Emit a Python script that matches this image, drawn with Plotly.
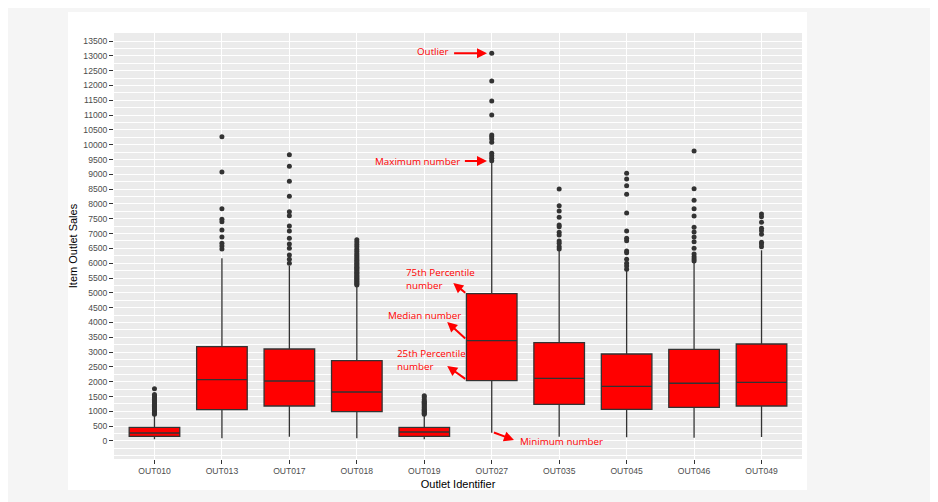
import plotly.graph_objects as go

outlets = ["OUT010", "OUT013", "OUT017", "OUT018", "OUT019",
           "OUT027", "OUT035", "OUT045", "OUT046", "OUT049"]
q1 = [158, 1057, 1181, 989, 158, 2035, 1238, 1069, 1137, 1181]
medians = [270, 2069, 2025, 1654, 304, 3385, 2116, 1846, 1948, 1981]
q3 = [462, 3183, 3105, 2710, 462, 4972, 3318, 2936, 3095, 3274]
lower_whisker = [57, 90, 145, 90, 57, 280, 145, 124, 111, 135]
upper_whisker = [880, 6166, 5917, 5231, 880, 9400, 6413, 5748, 6031, 6436]

out010_outliers = [905, 930, 960, 990, 1020, 1055, 1090, 1120, 1160, 1195, 1240,
                   1280, 1320, 1360, 1410, 1450, 1490, 1530, 1565, 1766]
out013_outliers = [10270, 9079, 7840, 7482, 7402, 7121, 6885, 6672, 6581, 6480]
out017_outliers = [9663, 9271, 8765, 8259, 7739, 7604, 7256, 7087, 6841, 6649,
                   6503, 6277, 6132, 5997]
out018_outliers = [5262, 5295, 5330, 5372, 5410, 5455, 5490, 5536, 5570, 5612,
                   5660, 5695, 5742, 5780, 5826, 5864, 5910, 5955, 6002, 6048,
                   6100, 6148, 6210, 6265, 6330, 6405, 6470, 6552, 6630, 6715, 6790]
out019_outliers = [905, 935, 965, 1000, 1035, 1070, 1110, 1150, 1190, 1230,
                   1270, 1310, 1340, 1400, 1482, 1529]
out027_outliers = [13087, 12150, 11475, 11003, 10328, 10270, 10193, 10080,
                   9710, 9630, 9541, 9461]
out035_outliers = [8505, 7941, 7762, 7549, 7290, 7233, 7043, 6953, 6750, 6672,
                   6559, 6480]
out045_outliers = [9040, 8840, 8617, 8326, 7695, 7087, 6841, 6760, 6413, 6356,
                   6132, 5997, 5906, 5795]
out046_outliers = [9788, 8515, 8124, 7840, 7594, 7213, 7054, 6885, 6726, 6503,
                   6311, 6220, 6142, 6075]
out049_outliers = [7661, 7572, 7381, 7179, 7098, 6976, 6706, 6649, 6559]

y_ticks = list(range(0, 14000, 500))

outlier_lists = [out010_outliers, out013_outliers, out017_outliers, out018_outliers,
                 out019_outliers, out027_outliers, out035_outliers, out045_outliers,
                 out046_outliers, out049_outliers]

ox, oy = [], []
for name, vals in zip(outlets, outlier_lists):
    ox += [name] * len(vals)
    oy += vals

fig = go.Figure()
fig.add_trace(go.Box(
    x=outlets, q1=q1, median=medians, q3=q3,
    lowerfence=lower_whisker, upperfence=upper_whisker,
    fillcolor="#ff0000", line=dict(color="#333333", width=1.3),
    whiskerwidth=0, boxpoints=False, showlegend=False, hoverinfo="skip"))
fig.add_trace(go.Scatter(
    x=ox, y=oy, mode="markers",
    marker=dict(color="#333333", size=5), showlegend=False, hoverinfo="skip"))

RED = "#ff0000"
afont = dict(family="Open Sans", size=9.8, color=RED)
anns = []

def arrow(hx, hy, tx, ty):
    anns.append(dict(x=hx, y=hy, ax=tx, ay=ty, xref="x", yref="y", axref="x", ayref="y",
                     text="", showarrow=True, arrowhead=2, arrowsize=1, arrowwidth=2,
                     arrowcolor=RED, standoff=0, startstandoff=0))

def label(x, y, text, xanchor="center"):
    anns.append(dict(x=x, y=y, xref="x", yref="y", text=text, showarrow=False,
                     xanchor=xanchor, yanchor="middle", align="left", font=afont))

arrow(4.93, 13087, 4.42, 13087)
label(4.13, 13130, "Outlier")
arrow(4.93, 9450, 4.58, 9450)
label(3.90, 9450, "Maximum number")
arrow(4.43, 5333, 4.63, 4961)
label(3.70, 5451, "75th Percentile<br>number", "left")
arrow(4.34, 4016, 4.63, 3409)
label(4.00, 4252, "Median number")
arrow(4.34, 2531, 4.63, 2059)
label(3.57, 2734, "25th Percentile<br>number", "left")
arrow(5.33, 34, 5.01, 304)
label(5.39, -34, "Minimum number", "left")

GRAY = "#f5f5f5"
shapes = []
for x0, x1, y0, y1 in [(-0.3, -0.0669, -0.2, 1.2), (1.0073, 1.3, -0.2, 1.2),
                       (-0.3, 1.3, -0.2, -0.0728), (-0.3, 1.3, 1.0493, 1.2)]:
    shapes.append(dict(type="rect", xref="paper", yref="paper", x0=x0, x1=x1,
                       y0=y0, y1=y1, fillcolor=GRAY, line=dict(width=0), layer="below"))

fig.update_layout(
    width=930, height=494,
    margin=dict(l=106, r=136, t=25, b=43),
    paper_bgcolor="white", plot_bgcolor="#ebebeb",
    font=dict(family="Liberation Sans", color="#4d4d4d"),
    boxgap=0.25, boxgroupgap=0, annotations=anns, shapes=shapes,
    xaxis=dict(type="category", range=[-0.6, 9.6], showgrid=True, gridcolor="white",
               gridwidth=1.1, ticks="outside", ticklen=4, tickcolor="#333333",
               tickfont=dict(size=8.6, color="#4d4d4d"), zeroline=False, showline=False,
               title=dict(text="Outlet Identifier", standoff=4,
                          font=dict(size=11, color="black"))),
    yaxis=dict(range=[-608, 13770], tickvals=y_ticks, tickformat="d", showgrid=True,
               gridcolor="white", gridwidth=1.1, ticks="outside", ticklen=4,
               tickcolor="#333333",
               tickfont=dict(size=8.6, color="#4d4d4d"), zeroline=False, showline=False,
               minor=dict(dtick=250, tick0=0, showgrid=True, gridcolor="white",
                          gridwidth=0.5),
               title=dict(text="Item Outlet Sales", standoff=3,
                          font=dict(size=11, color="black"))),
)

fig.write_html("out.html")
